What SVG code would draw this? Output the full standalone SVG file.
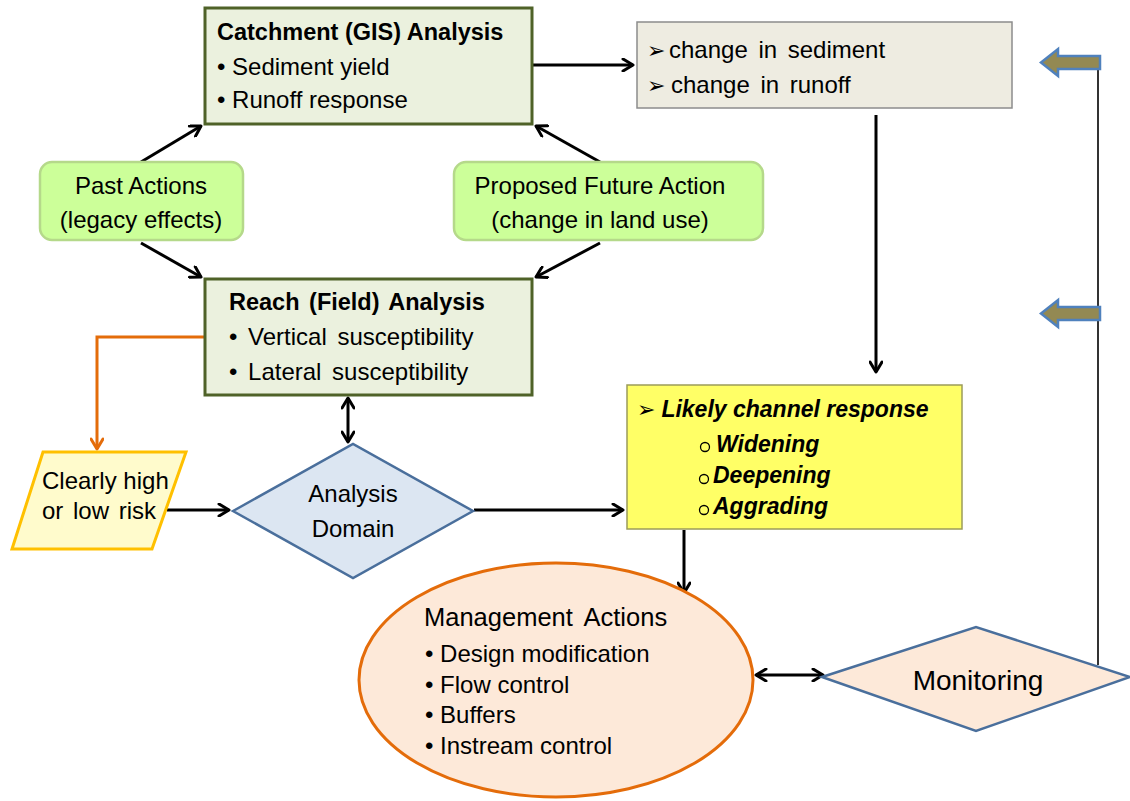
<svg xmlns="http://www.w3.org/2000/svg" width="1130" height="801" viewBox="0 0 1130 801">
<style>
text{font-family:"Liberation Sans","Noto Sans",sans-serif;font-size:24px;fill:#000}
.b{font-weight:bold;font-size:23.5px}
.bi{font-weight:bold;font-style:italic;font-size:23px}
.c{text-anchor:middle}
.conn{stroke:#000;stroke-width:3;fill:none}
.green{fill:#EBF1DE;stroke:#4F6228;stroke-width:3}
.pill{fill:#CCFF99;stroke:#B5D98A;stroke-width:2.5}
.ar{font-size:22px;font-style:normal;font-weight:normal}
</style>
<defs>
<marker id="ah" viewBox="0 0 14 14" refX="12" refY="7" markerWidth="14" markerHeight="14" markerUnits="userSpaceOnUse" orient="auto-start-reverse">
<path d="M2,1 L12,7 L2,13" fill="none" stroke="#000" stroke-width="3" stroke-linecap="round" stroke-linejoin="round"/>
</marker>
<marker id="aho" viewBox="0 0 14 14" refX="12" refY="7" markerWidth="14" markerHeight="14" markerUnits="userSpaceOnUse" orient="auto">
<path d="M2,1 L12,7 L2,13" fill="none" stroke="#E46C0A" stroke-width="3" stroke-linecap="round" stroke-linejoin="round"/>
</marker>
</defs>
<rect width="1130" height="801" fill="#fff"/>

<g id="connectors">
<line class="conn" x1="141" y1="162" x2="201" y2="126" marker-end="url(#ah)"/>
<line class="conn" x1="600" y1="162" x2="536" y2="126" marker-end="url(#ah)"/>
<line class="conn" x1="141" y1="243" x2="201" y2="277" marker-end="url(#ah)"/>
<line class="conn" x1="600" y1="243" x2="536" y2="277" marker-end="url(#ah)"/>
<line class="conn" x1="533" y1="65" x2="633" y2="65" marker-end="url(#ah)"/>
<line class="conn" x1="876" y1="115" x2="876" y2="372" marker-end="url(#ah)"/>
<line class="conn" x1="348" y1="398" x2="348" y2="442" marker-start="url(#ah)" marker-end="url(#ah)"/>
<path d="M205,337 H97 V449" fill="none" stroke="#E46C0A" stroke-width="3" marker-end="url(#aho)"/>
<line class="conn" x1="167" y1="510" x2="229" y2="510" marker-end="url(#ah)"/>
<line class="conn" x1="474" y1="510" x2="623" y2="510" marker-end="url(#ah)"/>
<line class="conn" x1="684" y1="530" x2="684" y2="593" marker-end="url(#ah)"/>
<line class="conn" x1="756" y1="675" x2="823" y2="675" marker-start="url(#ah)" marker-end="url(#ah)"/>
<line x1="1098" y1="62" x2="1098" y2="665" stroke="#333" stroke-width="2"/>
<path d="M1100,56 H1058 V49 L1041,62.5 L1058,76 V69 H1100 Z" fill="#938953" stroke="#4F81BD" stroke-width="2.5" stroke-linejoin="miter"/>
<path d="M1100,307 H1058 V300 L1041,313.5 L1058,327 V320 H1100 Z" fill="#938953" stroke="#4F81BD" stroke-width="2.5" stroke-linejoin="miter"/>
</g>

<g id="catchment">
<rect class="green" x="205" y="8" width="327" height="116"/>
<text class="b" x="217" y="40">Catchment (GIS) Analysis</text>
<text x="217" y="75">• Sediment yield</text>
<text x="217" y="108">• Runoff response</text>
</g>

<g id="change">
<rect x="637" y="22" width="375" height="86" fill="#EEECE1" stroke="#8C8C8C" stroke-width="1.5"/>
<text x="647" y="58" style="word-spacing:4px"><tspan class="ar">➢</tspan><tspan dx="4">change in sediment</tspan></text>
<text x="647" y="93" style="word-spacing:4px"><tspan class="ar">➢</tspan><tspan dx="6">change in runoff</tspan></text>
</g>

<g id="past">
<rect class="pill" x="40" y="162" width="203" height="78" rx="12"/>
<text class="c" x="141" y="194">Past Actions</text>
<text class="c" x="141" y="228">(legacy effects)</text>
</g>

<g id="proposed">
<rect class="pill" x="454" y="162" width="309" height="78" rx="12"/>
<text class="c" x="600" y="194">Proposed Future Action</text>
<text class="c" x="600" y="228">(change in land use)</text>
</g>

<g id="reach">
<rect class="green" x="205" y="279" width="327" height="116"/>
<text class="b" x="229" y="310" style="word-spacing:3px">Reach (Field) Analysis</text>
<text x="229" y="345" style="word-spacing:4px">• Vertical susceptibility</text>
<text x="229" y="380" style="word-spacing:4px">• Lateral susceptibility</text>
</g>

<g id="risk">
<polygon points="43,452 186,452 152,549 12,549" fill="#FFFBCC" stroke="#FFC000" stroke-width="3"/>
<text x="42" y="489">Clearly high</text>
<text x="42" y="519" style="word-spacing:3px">or low  risk</text>
</g>

<g id="domain">
<polygon points="233,511 353,444 473,511 353,578" fill="#DCE6F2" stroke="#4A6F9C" stroke-width="2.5"/>
<text class="c" x="353" y="502">Analysis</text>
<text class="c" x="353" y="537">Domain</text>
</g>

<g id="likely">
<rect x="627" y="385" width="335" height="144" fill="#FFFF66" stroke="#9C9C5A" stroke-width="1.5"/>
<text class="bi" x="637" y="417"><tspan class="ar">➢</tspan> Likely channel response</text>
<circle cx="705" cy="447" r="4.5" fill="none" stroke="#000" stroke-width="1.3"/>
<text class="bi" x="716" y="452">Widening</text>
<circle cx="704" cy="479" r="4.5" fill="none" stroke="#000" stroke-width="1.3"/>
<text class="bi" x="713" y="483">Deepening</text>
<circle cx="704" cy="510" r="4.5" fill="none" stroke="#000" stroke-width="1.3"/>
<text class="bi" x="713" y="514">Aggrading</text>
</g>

<g id="management">
<ellipse cx="556" cy="680" rx="197" ry="117" fill="#FDE9D9" stroke="#E46C0A" stroke-width="3"/>
<text x="424" y="626" style="font-size:25.5px;word-spacing:5px">Management Actions</text>
<text x="425" y="662">• Design modification</text>
<text x="425" y="693">• Flow control</text>
<text x="425" y="723">• Buffers</text>
<text x="425" y="754">• Instream control</text>
</g>

<g id="monitoring">
<polygon points="822,677 976,627 1130,677 976,731" fill="#FDE9D9" stroke="#4A6F9C" stroke-width="2.5"/>
<text class="c" x="978" y="690" style="font-size:28px">Monitoring</text>
</g>
</svg>
